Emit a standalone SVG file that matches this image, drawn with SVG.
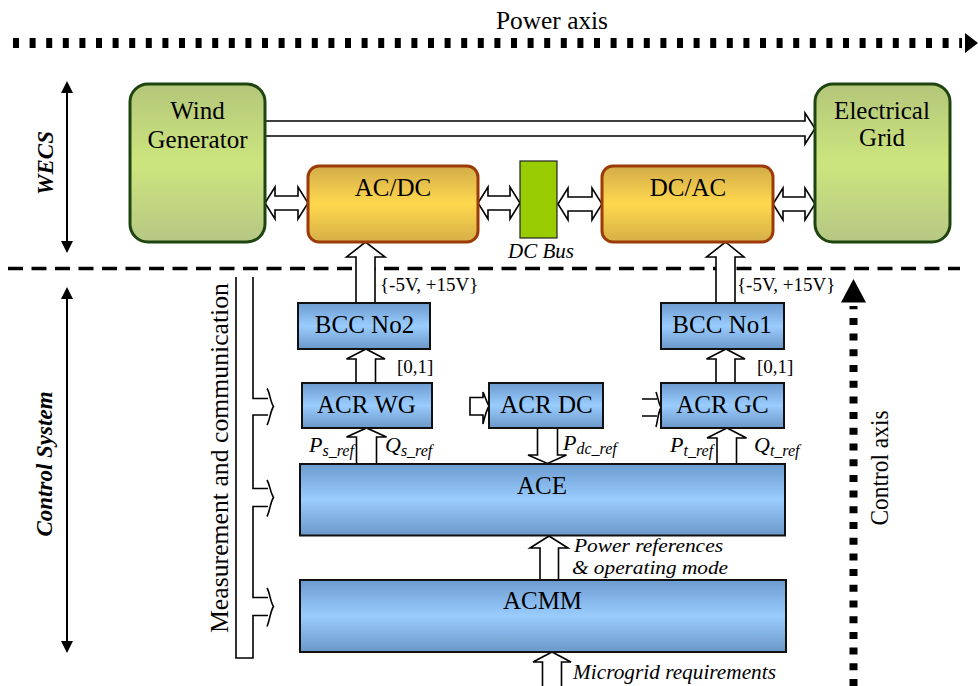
<svg xmlns="http://www.w3.org/2000/svg" width="978" height="686" viewBox="0 0 978 686" font-family="'Liberation Serif', Tinos, 'Times New Roman', 'DejaVu Serif', serif">
<style>
text{font-family:'Liberation Serif', Tinos, 'Times New Roman', 'DejaVu Serif', serif;fill:#000}
.box{font-size:25px;text-anchor:middle}
.lbl{font-size:19px}
.it{font-style:italic}
.side{font-size:23px;font-weight:bold;font-style:italic;text-anchor:middle}
.green{fill:url(#gGreen);stroke:#1e4410;stroke-width:3}
.gold{fill:url(#gGold);stroke:#9c3a08;stroke-width:3}
.blue{fill:url(#gBlue);stroke:#111;stroke-width:2}
.ha{fill:#fff;stroke:#000;stroke-width:1.6;stroke-linejoin:miter}
.ol{fill:none;stroke:#000;stroke-width:1.6}
.sub{font-size:16px}
</style>
<defs>
<linearGradient id="gGreen" x1="0" y1="0" x2="0" y2="1">
<stop offset="0" stop-color="#b3c67a"/><stop offset="0.5" stop-color="#cde57e"/><stop offset="1" stop-color="#b6c784"/>
</linearGradient>
<linearGradient id="gGold" x1="0" y1="0" x2="0" y2="1">
<stop offset="0" stop-color="#d2ac4a"/><stop offset="0.5" stop-color="#ffd84e"/><stop offset="1" stop-color="#d5ae48"/>
</linearGradient>
<linearGradient id="gBlue" x1="0" y1="0" x2="0" y2="1">
<stop offset="0" stop-color="#6c9bcf"/><stop offset="0.5" stop-color="#9accfe"/><stop offset="1" stop-color="#6b98c8"/>
</linearGradient>
</defs>
<rect width="978" height="686" fill="#fff"/>

<g id="axes">
<text x="552" y="29" font-size="26" text-anchor="middle" textLength="112" lengthAdjust="spacingAndGlyphs">Power axis</text>
<line x1="13" y1="43" x2="962" y2="43" stroke="#000" stroke-width="10" stroke-dasharray="6 10.6"/>
<polygon points="965,33 978,43 965,53" fill="#000"/>
<line x1="8" y1="268.5" x2="960" y2="268.5" stroke="#000" stroke-width="3.5" stroke-dasharray="15 8.5"/>
<line x1="853.5" y1="686" x2="853.5" y2="306" stroke="#000" stroke-width="8" stroke-dasharray="7 8.7"/>
<polygon points="853.5,279 841,302.5 866,302.5" fill="#000"/>
<text transform="translate(888,468) rotate(-90)" font-size="26" text-anchor="middle" textLength="115" lengthAdjust="spacingAndGlyphs">Control axis</text>
<line x1="67" y1="92" x2="67" y2="242" stroke="#000" stroke-width="2"/>
<polygon points="67,81 61,93 73,93" fill="#000"/>
<polygon points="67,253 61,241 73,241" fill="#000"/>
<text class="side" transform="translate(53,163) rotate(-90)">WECS</text>
<line x1="67" y1="298" x2="67" y2="642" stroke="#000" stroke-width="2"/>
<polygon points="67,287 61,299 73,299" fill="#000"/>
<polygon points="67,653 61,641 73,641" fill="#000"/>
<text class="side" transform="translate(52,464) rotate(-90)">Control System</text>
</g>

<g id="connectors">
<polygon class="ha" points="262,121 805,121 805,113 815,128.5 805,144 805,136 262,136"/>
<path class="ha" d="M265,203 L275,187 L275,196 L298,196 L298,187 L308,203 L298,219 L298,210 L275,210 L275,219 Z"/>
<path class="ha" d="M478,203 L488,187 L488,196 L510,196 L510,187 L520,203 L510,219 L510,210 L488,210 L488,219 Z"/>
<path class="ha" d="M558,204 L568,188 L568,197 L592,197 L592,188 L602,204 L592,220 L592,211 L568,211 L568,220 Z"/>
<path class="ha" d="M773,204 L783,188 L783,197 L805,197 L805,188 L815,204 L805,220 L805,211 L783,211 L783,220 Z"/>
<polygon class="ha" points="356,303 356,257 346.5,257 365.5,242 385,257 375,257 375,303"/>
<polygon class="ha" points="716,303 716,257 706.5,257 725.5,242 744,257 735,257 735,303"/>
<polygon class="ha" points="356,383 356,359 346.5,359 366,349 385,359 375.5,359 375.5,383"/>
<polygon class="ha" points="716,383 716,359 706.5,359 726,349 745,359 735,359 735,383"/>
<polygon class="ha" points="356.5,464 356.5,437 346.5,437 366.5,428 386.5,437 376.5,437 376.5,464"/>
<polygon class="ha" points="717,464 717,438 707,438 727,428 746.5,438 736.5,438 736.5,464"/>
<polygon class="ha" points="537.5,428 537.5,455 528,455 547.5,463.5 566.5,455 557.5,455 557.5,428"/>
<polygon class="ha" points="540,580 540,548 530,548 549,536 568,548 558.5,548 558.5,580"/>
<polygon class="ha" points="542.5,690 542.5,662 533,662 552,652 571,662 561.5,662 561.5,690"/>
<path class="ha" d="M470,397.5 L483,397.5 L483,392 C485,396 486,401 489,406 C486,411 485,416 483,424 L483,415 L470,415 Z"/>
<path class="ol" d="M642,399 H657 M642,416 H657 M656,392 C658,397 658,402 661,407.5 C658,413 658,419 656,427"/>
<path class="ol" d="M253,277 V398.5 H268 M268,415 H253 V488.5 H268 M268,506.5 H253 V597.5 H268 M268,615.5 H253 V658 H236 V277"/>
<path class="ol" d="M267,388.5 C270,393 270,401 273.5,406.5 C270,412 270,420 267,425 M267,480 C270,485 270,492 273.5,497.5 C270,503 270,511 267,516.5 M267,588 C270,593 270,601 273.5,606.5 C270,612 270,620 267,626.5"/>
</g>

<g id="labels">
<text transform="translate(228,458) rotate(-90)" font-size="25" text-anchor="middle" textLength="350" lengthAdjust="spacingAndGlyphs">Measurement and communication</text>
<text class="lbl" x="380" y="291">{-5V, +15V}</text>
<text class="lbl" x="737" y="291">{-5V, +15V}</text>
<text class="lbl" x="397" y="373">[0,1]</text>
<text class="lbl" x="757" y="373">[0,1]</text>
<text class="it" x="309" y="452" font-size="22">P<tspan class="sub" dy="4">s_ref</tspan></text>
<text class="it" x="385" y="452" font-size="22">Q<tspan class="sub" dy="4">s_ref</tspan></text>
<text class="it" x="563" y="450" font-size="22">P<tspan class="sub" dy="4">dc_ref</tspan></text>
<text class="it" x="670" y="452" font-size="22">P<tspan class="sub" dy="4">t_ref</tspan></text>
<text class="it" x="754" y="452" font-size="22">Q<tspan class="sub" dy="4">t_ref</tspan></text>
<text class="it" x="574" y="552" font-size="19.5" textLength="149" lengthAdjust="spacingAndGlyphs">Power references</text>
<text class="it" x="572" y="573.5" font-size="19.5" textLength="156" lengthAdjust="spacingAndGlyphs">&amp; operating mode</text>
<text class="it" x="573" y="679" font-size="21" textLength="203" lengthAdjust="spacingAndGlyphs">Microgrid requirements</text>
</g>

<g id="wind-generator">
<rect class="green" x="130" y="84" width="135" height="158" rx="18"/>
<text class="box" x="197.5" y="119">Wind</text>
<text class="box" x="197.5" y="148">Generator</text>
</g>
<g id="electrical-grid">
<rect class="green" x="815" y="84" width="135" height="158" rx="18"/>
<text class="box" x="882" y="119">Electrical</text>
<text class="box" x="882" y="146">Grid</text>
</g>
<g id="ac-dc">
<rect class="gold" x="308" y="166" width="170" height="76" rx="11"/>
<text class="box" x="393" y="196">AC/DC</text>
</g>
<g id="dc-bus">
<rect x="520" y="161" width="37" height="77" fill="#99cc00" stroke="#222" stroke-width="1.2"/>
<text class="it" x="541" y="258" font-size="21" text-anchor="middle">DC Bus</text>
</g>
<g id="dc-ac">
<rect class="gold" x="602" y="166" width="171" height="76" rx="11"/>
<text class="box" x="688" y="196">DC/AC</text>
</g>
<g id="bcc-no2">
<rect class="blue" x="298" y="303" width="132" height="46"/>
<text class="box" x="364.5" y="333">BCC No2</text>
</g>
<g id="bcc-no1">
<rect class="blue" x="661" y="303" width="123" height="46"/>
<text class="box" x="722" y="333">BCC No1</text>
</g>
<g id="acr-wg">
<rect class="blue" x="302" y="383" width="130" height="45"/>
<text class="box" x="366.5" y="413">ACR WG</text>
</g>
<g id="acr-dc">
<rect class="blue" x="489" y="383" width="114" height="45"/>
<text class="box" x="546.5" y="413">ACR DC</text>
</g>
<g id="acr-gc">
<rect class="blue" x="661" y="383" width="123" height="45"/>
<text class="box" x="722.5" y="413">ACR GC</text>
</g>
<g id="ace">
<rect class="blue" x="300" y="464" width="485" height="71.5"/>
<text class="box" x="542" y="494">ACE</text>
</g>
<g id="acmm">
<rect class="blue" x="300" y="580" width="486" height="72"/>
<text class="box" x="542.5" y="609">ACMM</text>
</g>
</svg>
